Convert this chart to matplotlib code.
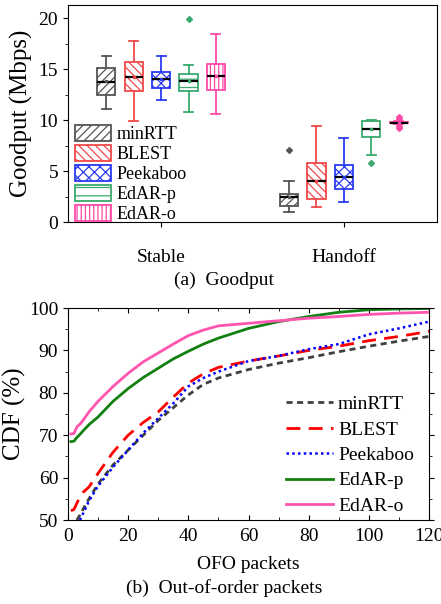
import numpy as np
import matplotlib
matplotlib.use("Agg")
import matplotlib.pyplot as plt
from matplotlib.ticker import MultipleLocator

plt.rcParams['font.family'] = ['Liberation Serif', 'DejaVu Serif']
plt.rcParams['hatch.linewidth'] = 0.9

# ---- (a) goodput box stats ----
schemes = ['minRTT', 'BLEST', 'Peekaboo', 'EdAR-p', 'EdAR-o']
scenarios = ['Stable', 'Handoff']
box_colors = ['#555555', '#f24848', '#2a3cf2', '#3aaa6e', '#ff4aa8']
hatches = ['////', '\\\\\\\\', 'xxx', '--', '||||']

# whislo, q1, med, q3, whishi, mean
stable_stats = [
    [11.05, 12.48, 13.76, 15.13, 16.24, 13.8],
    [9.93, 12.88, 14.25, 15.72, 17.75, 14.25],
    [11.93, 13.14, 13.99, 14.74, 16.3, 14.0],
    [10.82, 12.84, 13.82, 14.5, 15.36, 13.8],
    [10.65, 13.0, 14.31, 15.52, 18.46, 14.3],
]
stable_fliers = [[], [], [], [19.87], []]
handoff_stats = [
    [1.01, 1.57, 2.52, 2.75, 4.02, 2.5],
    [1.5, 2.29, 4.05, 5.82, 9.44, 4.05],
    [1.99, 3.27, 4.45, 5.62, 8.24, 4.45],
    [6.6, 8.37, 9.12, 9.9, 10.0, 9.1],
    [9.6, 9.72, 9.77, 9.85, 9.95, 9.77],
]
handoff_fliers = [[7.12], [], [], [5.78], [10.3, 10.15, 9.45, 9.22]]

# ---- (b) CDF of OFO packets ----
ofo_x = [1, 2, 3, 4, 5, 7, 10, 15, 20, 25, 30, 35, 40, 45, 50, 60, 70, 80, 90, 100, 110, 120]
cdf_minrtt = [None, None, 50.0, 51.2, 52.5, 55.0, 58.5, 63.0, 66.5, 70.0, 73.5, 76.5, 79.5,
              82.0, 83.5, 85.5, 87.0, 88.3, 89.7, 91.0, 92.2, 93.3]
cdf_blest = [52.2, 52.5, 54.0, 55.5, 56.5, 57.8, 61.0, 66.0, 70.0, 73.0, 75.5, 79.0, 82.3,
             84.5, 86.0, 87.5, 88.7, 90.0, 91.0, 92.3, 93.3, 94.5]
cdf_peek = [None, None, None, 50.0, 51.5, 54.5, 58.0, 62.5, 66.5, 70.5, 74.0, 77.5, 81.5,
            83.5, 85.0, 87.5, 88.7, 90.3, 91.5, 93.8, 95.2, 96.8]
cdf_edarp = [68.5, 68.6, 69.5, 70.2, 71.0, 72.5, 74.3, 78.0, 81.0, 83.6, 85.8, 88.0, 89.8,
             91.5, 92.9, 95.2, 96.8, 98.0, 99.0, 99.6, 99.8, 99.9]
cdf_edaro = [70.3, 70.4, 72.0, 72.6, 73.5, 75.5, 78.0, 81.5, 84.6, 87.3, 89.4, 91.5, 93.5,
             94.8, 95.8, 96.4, 97.0, 97.6, 98.0, 98.5, 98.8, 99.0]

fig = plt.figure(figsize=(4.41, 6.04), dpi=100)
ax1 = fig.add_axes([0.154, 0.632, 0.837, 0.360])
ax2 = fig.add_axes([0.154, 0.139, 0.819, 0.351])

# ---- top panel ----
offsets = [-0.3, -0.15, 0.0, 0.15, 0.3]
for i, name in enumerate(schemes):
    stats = []
    for s, fl in ((stable_stats[i], stable_fliers[i]), (handoff_stats[i], handoff_fliers[i])):
        stats.append(dict(whislo=s[0], q1=s[1], med=s[2], q3=s[3], whishi=s[4],
                          mean=s[5], fliers=fl))
    c = box_colors[i]
    pos = [1 + offsets[i], 2 + offsets[i]]
    res = ax1.bxp(stats, positions=pos, widths=0.1, patch_artist=True, showmeans=True,
                  boxprops=dict(facecolor='white', edgecolor=c, linewidth=1.3),
                  whiskerprops=dict(color=c, linewidth=1.3),
                  capprops=dict(color=c, linewidth=1.3),
                  medianprops=dict(color='black', linewidth=1.6),
                  meanprops=dict(marker='s', markersize=2, markerfacecolor=c, markeredgecolor=c),
                  flierprops=dict(marker='D', markersize=3, markerfacecolor=c, markeredgecolor=c),
                  manage_ticks=False)
    for b in res['boxes']:
        b.set_hatch(hatches[i])
    res['boxes'][0].set_label(name)
    res['boxes'][1].set_label('_nolegend_')

ax1.set_xlim(0.49, 2.51)
ax1.set_ylim(0, 21.3)
ax1.set_xticks([1, 2])
ax1.set_xticklabels(scenarios, fontsize=14)
ax1.yaxis.set_major_locator(MultipleLocator(5))
ax1.yaxis.set_minor_locator(MultipleLocator(2.5))
ax1.tick_params(axis='y', which='both', direction='out', labelsize=14, right=False)
ax1.tick_params(axis='x', direction='out', pad=16, top=False)
ax1.set_ylabel('Goodput (Mbps)', fontsize=18, labelpad=4)
ax1.legend(loc='lower left', bbox_to_anchor=(0.02, -0.005), frameon=False, fontsize=13,
           handlelength=2.0, handleheight=1.0, labelspacing=0.1, handletextpad=0.3,
           borderpad=0, borderaxespad=0)

# ---- bottom panel ----
def clean(x, y):
    pts = [(a, b) for a, b in zip(x, y) if b is not None]
    return [p[0] for p in pts], [p[1] for p in pts]

ax2.plot(*clean(ofo_x, cdf_minrtt), color='#404040', lw=2, ls=(0, (2.2, 1.6)), label='minRTT')
ax2.plot(*clean(ofo_x, cdf_blest), color='#ff0000', lw=2, ls=(0, (5, 3)), label='BLEST')
ax2.plot(*clean(ofo_x, cdf_peek), color='#0000ff', lw=1.8, ls=(0, (1, 1.3)), label='Peekaboo')
ax2.plot(ofo_x, cdf_edarp, color='#118011', lw=2, label='EdAR-p')
ax2.plot(ofo_x, cdf_edaro, color='#ff55b0', lw=2, label='EdAR-o')

ax2.set_xlim(0, 120)
ax2.set_ylim(50, 100)
ax2.xaxis.set_major_locator(MultipleLocator(20))
ax2.xaxis.set_minor_locator(MultipleLocator(10))
ax2.yaxis.set_major_locator(MultipleLocator(10))
ax2.yaxis.set_minor_locator(MultipleLocator(5))
ax2.tick_params(axis='y', which='both', direction='out', labelsize=14)
ax2.tick_params(axis='x', which='both', direction='in', labelsize=14, top=True, pad=6)
ax2.tick_params(axis='y', which='both', right=True)
ax2.set_xlabel('OFO packets', fontsize=14, labelpad=8)
ax2.set_ylabel('CDF (%)', fontsize=18, labelpad=2)
ax2.legend(loc='lower right', bbox_to_anchor=(0.99, -0.03), frameon=False, fontsize=14,
           handlelength=2.4, labelspacing=0.4, handletextpad=0.25, borderaxespad=0.2)

fig.text(0.508, 0.536, '(a)  Goodput', ha='center', va='center', fontsize=14)
fig.text(0.508, 0.026, '(b)  Out-of-order packets', ha='center', va='center', fontsize=14)

fig.savefig('out.png', dpi=100)
